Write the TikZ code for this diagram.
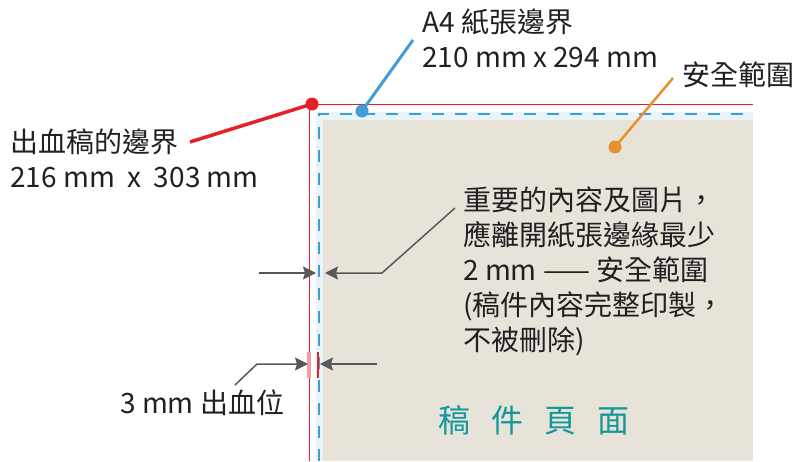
\documentclass[tikz,border=0pt]{standalone}
\usepackage{fontspec}
\setmainfont{Noto Sans CJK TC}
\usetikzlibrary{arrows.meta}
\definecolor{bleedred}{RGB}{230,32,40}
\definecolor{paperblue}{RGB}{66,156,214}
\definecolor{safeorange}{RGB}{230,146,44}
\definecolor{pageteal}{RGB}{20,152,155}
\definecolor{bandblue}{RGB}{233,243,250}
\definecolor{pagebeige}{RGB}{231,227,217}
\definecolor{arrowgray}{RGB}{88,88,88}
\definecolor{textgray}{RGB}{35,31,32}

\begin{document}
\begin{tikzpicture}[x=1pt,y=-1pt,
	lbl/.style={anchor=base west,inner sep=0pt,text=textgray,font=\fontsize{28}{35}\selectfont},
	dimarrow/.style={draw=arrowgray,line width=1.5pt,-{Stealth[length=13pt,width=13pt,inset=2pt]}},
	pindot/.style={circle,fill=#1,inner sep=0pt,minimum size=13pt}]
	\useasboundingbox (0,0) rectangle (795,461);
	% page areas
	\fill[bandblue] (316,112) rectangle (753,461);
	\fill[pagebeige] (323,120) rectangle (753,461);
	\draw[bleedred,line width=0.9pt] (309,461) -- (309,104.5) -- (753,104.5);
	\draw[paperblue,line width=2pt,dash pattern=on 12pt off 11pt] (319,461) -- (319,114) -- (753,114);
	% labels
	\node[lbl] (bleedlbl) at (10,152) {出血稿的邊界};
	\node[lbl] (bleedsize) at (10,187) {216 mm\ \ x\ \ 303 mm};
	\node[lbl] (paperlbl) at (422,32) {A4 紙張邊界};
	\node[lbl] (papersize) at (422,67) {210 mm x 294 mm};
	\node[lbl] (safelbl) at (682,85) {安全範圍};
	\node[lbl] (note1) at (463,210) {重要的內容及圖片，};
	\node[lbl] (note2) at (463,245) {應離開紙張邊緣最少};
	\node[lbl] (note3) at (463,280) {2 mm —— 安全範圍};
	\node[lbl] (note4) at (463,315) {(稿件內容完整印製，};
	\node[lbl] (note5) at (463,350) {不被刪除)};
	\node[lbl] (bleedwidth) at (120,413) {3 mm 出血位};
	\node[lbl,text=pageteal,font=\fontsize{32}{38}\selectfont] (pagelbl) at (438,432)
		{稿\hspace{21pt}件\hspace{21pt}頁\hspace{21pt}面};
	% pointers
	\node[pindot=bleedred] (bleeddot) at (312,104) {};
	\node[pindot=paperblue] (paperdot) at (362,111) {};
	\node[pindot=safeorange] (safedot) at (615,147) {};
	\coordinate (bleedend) at (190,142);
	\coordinate (paperend) at (413,40);
	\coordinate (safeend) at (673,78);
	\draw[bleedred,line width=3.5pt] (bleedend) -- (bleeddot.center);
	\draw[paperblue,line width=3pt] (paperend) -- (paperdot.center);
	\draw[safeorange,line width=2.5pt] (safeend) -- (safedot.center);
	% safety margin arrows
	\coordinate (safeout) at (259,273);
	\coordinate (safetip) at (316,273);
	\coordinate (safein) at (325,273);
	\coordinate (safebend) at (382,273);
	\coordinate (noteend) at (455,208);
	\draw[dimarrow] (safeout) -- (safetip);
	\draw[dimarrow] (noteend) -- (safebend) -- (safein);
	% bleed arrows
	\draw[bleedred!45,line width=4pt] (309,352) -- (309,378);
	\draw[bleedred,line width=2.5pt] (318,352) -- (318,378);
	\coordinate (bleedout) at (257,364);
	\coordinate (bleedtip) at (308,364);
	\coordinate (bleedin) at (320,364);
	\coordinate (bleedback) at (377,364);
	\coordinate (widthend) at (235,385);
	\draw[dimarrow] (widthend) -- (bleedout) -- (bleedtip);
	\draw[dimarrow] (bleedback) -- (bleedin);
\end{tikzpicture}
\end{document}
